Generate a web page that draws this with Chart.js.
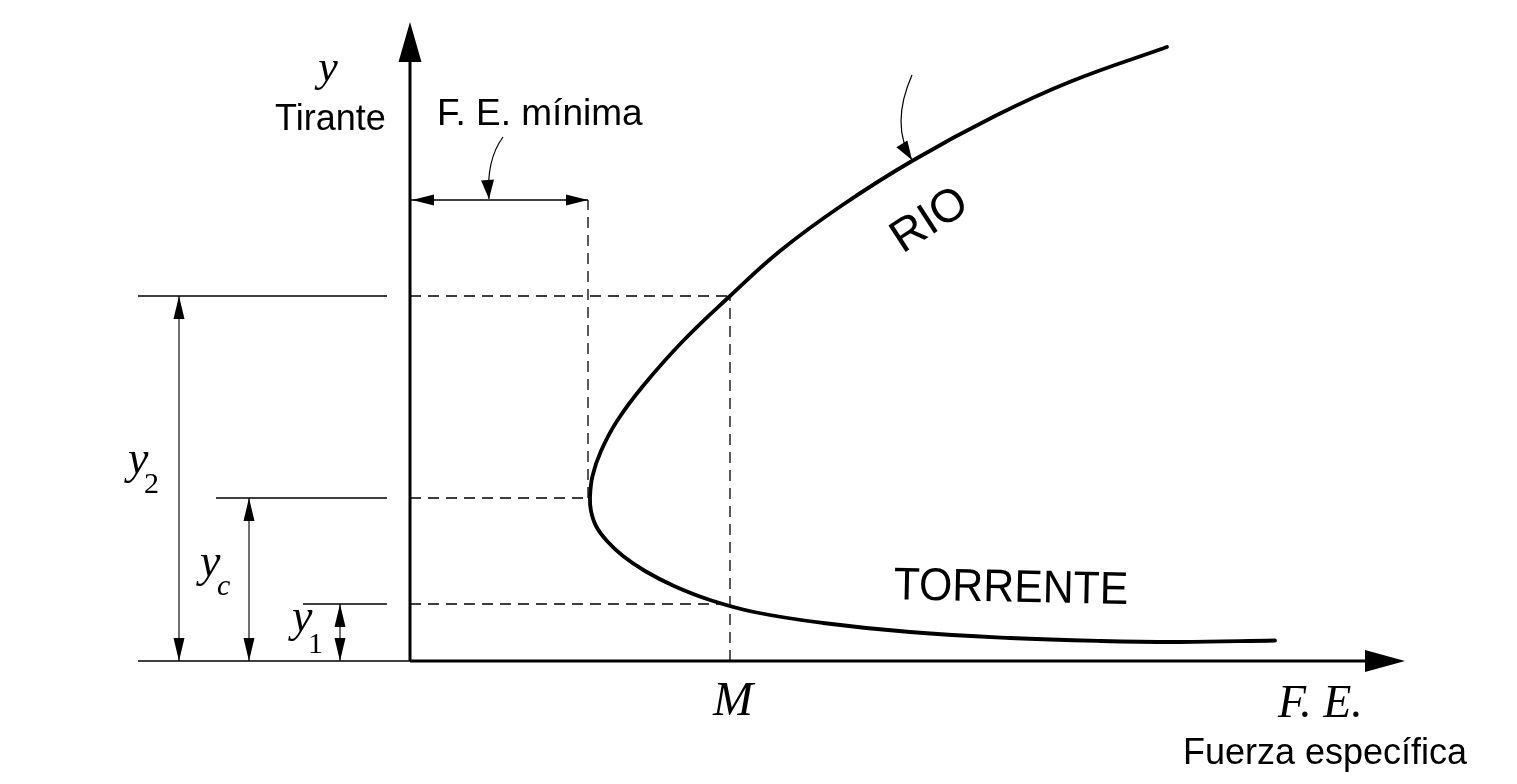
<!DOCTYPE html>
<html>
<head>
<meta charset="utf-8">
<script src="https://cdn.jsdelivr.net/npm/chart.js@4.4.1/dist/chart.umd.min.js"></script>
<style>
html,body{margin:0;padding:0;background:#ffffff;}
#wrap{width:1517px;height:784px;position:relative;}
</style>
</head>
<body>
<div id="wrap"><canvas id="c"></canvas></div>
<script>
// ---------------- DATA (units) ----------------
// Specific-force curve (x = fuerza específica, y = tirante): RIO branch from the top, then TORRENTE branch
const curveFE    = [7.57,6.62,5.85,5.02,4.31,3.70,3.20,2.73,2.33,2.07,1.91,1.825,1.80,1.81,1.86,1.97,2.13,2.35,2.64,3.00,3.44,4.13,5.00,6.00,6.90,7.70,8.65];
const curveDepth = [6.14,5.80,5.45,5.00,4.55,4.10,3.65,3.20,2.75,2.40,2.10,1.85,1.63,1.50,1.35,1.20,1.05,0.90,0.75,0.61,0.49,0.38,0.29,0.23,0.20,0.19,0.205];

// Key depths: y2, yc, y1
const keyDepths = [3.65, 1.63, 0.57];
const depthNames = ['2', 'c', '1'];
// Key forces: F.E. mínima, M
const feMin = 1.80;
const feM = 3.20;
const feMinLevel = 4.61;       // height of the "F. E. mínima" dimension line
// Axis extents
const xAxisEnd = 9.95;
const yAxisEnd = 6.39;
// Dimension lines on the left (x position of the arrow, start of the extension line)
const dimArrowX = [-2.31, -1.61, -0.70];
const dimExtStart = [-2.72, -1.94, -1.07];
const dimExtEnd = -0.23;
// Text labels
const axisYSymbol = 'y';
const axisYName = 'Tirante';
const axisXSymbol = 'F. E.';
const axisXName = 'Fuerza específica';
const feMinLabel = 'F. E. mínima';
const mLabel = 'M';
const branchLabels = ['RIO', 'TORRENTE'];

// Plot window
const xMin = -4.10, xMax = 11.07, yMin = -1.23, yMax = 6.61;

// ---------------- DATASETS ----------------
const pts = (xs, ys) => xs.map((x, i) => ({x: x, y: ys[i]}));
const seg = (x1, y1, x2, y2) => [{x: x1, y: y1}, {x: x2, y: y2}];

const datasets = [];
function addLine(data, opts) {
  datasets.push(Object.assign({
    data: data, showLine: true, pointRadius: 0, pointHoverRadius: 0,
    borderColor: '#000', borderWidth: 1, tension: 0, fill: false
  }, opts || {}));
}

// Curve
addLine(pts(curveFE, curveDepth), {borderWidth: 3.8, tension: 0.42, borderCapStyle: 'round', borderJoinStyle: 'round'});
// Axes
addLine(seg(0, 0, 0, yAxisEnd - 0.2), {borderWidth: 3});
addLine(seg(0, 0, xAxisEnd - 0.2, 0), {borderWidth: 3});
// Dashed guides
const dashStyle = {borderWidth: 1.3, borderColor: '#000', borderDash: [11, 7]};
addLine(seg(0, keyDepths[0], feM, keyDepths[0]), dashStyle);
addLine(seg(0, keyDepths[1], feMin, keyDepths[1]), dashStyle);
addLine(seg(0, keyDepths[2], feM, keyDepths[2]), dashStyle);
addLine(seg(feMin - 0.02, keyDepths[1], feMin - 0.02, feMinLevel), dashStyle);
addLine(seg(feM, 0, feM, keyDepths[0]), dashStyle);
// Extension lines (left side)
const extStyle = {borderWidth: 1.4, borderColor: '#000'};
keyDepths.forEach((d, i) => addLine(seg(dimExtStart[i], d, dimExtEnd, d), extStyle));
addLine(seg(dimExtStart[0], 0, 0, 0), extStyle);
// Dimension arrows (left side)
const dimStyle = {borderWidth: 1.3, borderColor: '#222'};
keyDepths.forEach((d, i) => addLine(seg(dimArrowX[i], 0, dimArrowX[i], d), dimStyle));
// F. E. mínima dimension line
addLine(seg(0, feMinLevel, feMin - 0.02, feMinLevel), {borderWidth: 1.3, borderColor: '#000'});

// ---------------- PLUGINS ----------------
function head(ctx, tx, ty, fx, fy, len, w) {
  const a = Math.atan2(ty - fy, tx - fx);
  const bx = tx - len * Math.cos(a), by = ty - len * Math.sin(a);
  const px = -Math.sin(a) * w / 2, py = Math.cos(a) * w / 2;
  ctx.beginPath();
  ctx.moveTo(tx, ty);
  ctx.lineTo(bx + px, by + py);
  ctx.lineTo(bx - px, by - py);
  ctx.closePath();
  ctx.fill();
}

const pointers = [
  {start: [0.93, 5.24], ctrl: [0.76, 5.01], tip: [0.79, 4.62]},
  {start: [5.02, 5.86], ctrl: [4.80, 5.36], tip: [5.02, 5.01]}
];

const arrowPlugin = {
  id: 'arrows',
  afterDatasetsDraw(chart) {
    const ctx = chart.ctx, sx = chart.scales.x, sy = chart.scales.y;
    const X = v => sx.getPixelForValue(v), Y = v => sy.getPixelForValue(v);
    ctx.save();
    ctx.fillStyle = '#000';
    // axis arrowheads
    head(ctx, X(0), Y(yAxisEnd), X(0), Y(0), 40, 23);
    head(ctx, X(xAxisEnd), Y(0), X(0), Y(0), 40, 22);
    // left dimension arrows
    keyDepths.forEach((d, i) => {
      const x = X(dimArrowX[i]);
      head(ctx, x, Y(d), x, Y(0), 23, 11);
      head(ctx, x, Y(0), x, Y(d), 23, 11);
    });
    // F.E. minima arrows
    head(ctx, X(0) + 2, Y(feMinLevel), X(feMin), Y(feMinLevel), 22, 11);
    head(ctx, X(feMin - 0.02), Y(feMinLevel), X(0), Y(feMinLevel), 22, 11);
    // curved pointers
    ctx.strokeStyle = '#000';
    ctx.lineWidth = 1.2;
    pointers.forEach(p => {
      ctx.beginPath();
      ctx.moveTo(X(p.start[0]), Y(p.start[1]));
      ctx.quadraticCurveTo(X(p.ctrl[0]), Y(p.ctrl[1]), X(p.tip[0]), Y(p.tip[1]));
      ctx.stroke();
      head(ctx, X(p.tip[0]), Y(p.tip[1]), X(p.ctrl[0]), Y(p.ctrl[1]), 19, 13);
    });
    ctx.restore();
  }
};

const SANS = '"Liberation Sans", Arial, sans-serif';
const SERIF = '"Liberation Serif", "Times New Roman", serif';
const labels = [
  {t: axisYSymbol, x: -0.82, y: 5.80, font: 'italic 44px ' + SERIF, align: 'center'},
  {t: axisYName, x: -1.35, y: 5.31, font: '36px ' + SANS},
  {t: feMinLabel, x: 0.27, y: 5.36, font: '37px ' + SANS},
  {t: branchLabels[0], x: 5.20, y: 4.40, font: '46px ' + SANS, align: 'center', base: 'middle', rot: -33},
  {t: branchLabels[1], x: 6.01, y: 0.72, font: '46px ' + SANS, align: 'center', base: 'middle', rot: 1.2, sx: 0.93},
  {t: mLabel, x: 3.23, y: -0.54, font: 'italic 48px ' + SERIF, align: 'center'},
  {t: axisXSymbol, x: 8.68, y: -0.56, font: 'italic 46px ' + SERIF},
  {t: axisXName, x: 7.73, y: -1.03, font: '36px ' + SANS},
  // depth symbols
  {t: 'y', x: -2.82, y: 1.88, font: 'italic 46px ' + SERIF},
  {t: depthNames[0], x: -2.66, y: 1.68, font: '30px ' + SERIF},
  {t: 'y', x: -2.10, y: 0.85, font: 'italic 46px ' + SERIF},
  {t: depthNames[1], x: -1.93, y: 0.66, font: 'italic 30px ' + SERIF},
  {t: 'y', x: -1.18, y: 0.30, font: 'italic 46px ' + SERIF},
  {t: depthNames[2], x: -1.02, y: 0.08, font: '30px ' + SERIF}
];

const labelPlugin = {
  id: 'labels',
  afterDraw(chart) {
    const ctx = chart.ctx, sx = chart.scales.x, sy = chart.scales.y;
    ctx.save();
    ctx.fillStyle = '#000';
    labels.forEach(l => {
      ctx.save();
      ctx.translate(sx.getPixelForValue(l.x), sy.getPixelForValue(l.y));
      if (l.rot) ctx.rotate(l.rot * Math.PI / 180);
      if (l.sx) ctx.scale(l.sx, 1);
      ctx.font = l.font;
      ctx.textAlign = l.align || 'left';
      ctx.textBaseline = l.base || 'alphabetic';
      ctx.fillText(l.t, 0, 0);
      ctx.restore();
    });
    ctx.restore();
  }
};

new Chart(document.getElementById('c'), {
  type: 'scatter',
  data: {datasets: datasets},
  options: {
    responsive: true,
    maintainAspectRatio: false,
    animation: false,
    layout: {padding: 0},
    events: [],
    plugins: {legend: {display: false}, tooltip: {enabled: false}},
    scales: {
      x: {type: 'linear', min: xMin, max: xMax, display: false},
      y: {type: 'linear', min: yMin, max: yMax, display: false}
    }
  },
  plugins: [arrowPlugin, labelPlugin]
});
</script>
</body>
</html>
